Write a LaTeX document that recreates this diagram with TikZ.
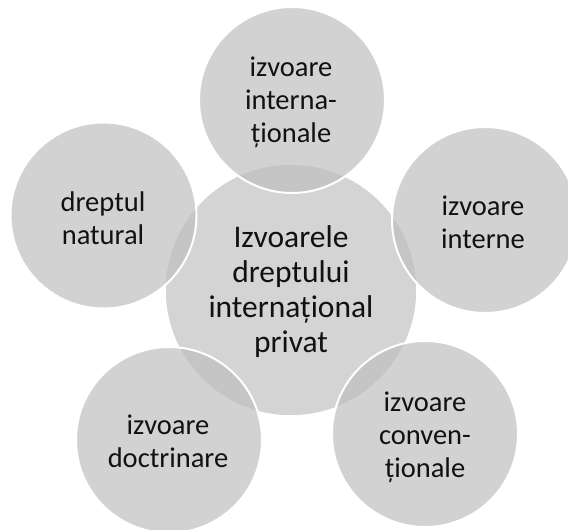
\documentclass[tikz,border=0pt]{standalone}
\usepackage{fontspec}
\setmainfont{Carlito}
\definecolor{hubgray}{RGB}{212,212,212}
\definecolor{satgray}{RGB}{190,190,190}
\definecolor{inktext}{RGB}{17,17,17}
\begin{document}
\begin{tikzpicture}[x=1pt,y=-1pt,
  hub/.style={circle, fill=hubgray, draw=white, line width=1.5pt,
    minimum size=252pt, inner sep=0pt},
  sat/.style={circle, fill=satgray, fill opacity=0.68,
    draw=white, draw opacity=1, line width=2pt,
    minimum size=186pt, inner sep=0pt},
  hubtxt/.style={text=inktext, align=center, font=\fontsize{31.5}{35}\selectfont},
  sattxt/.style={text=inktext, align=center, font=\fontsize{28.5}{33}\selectfont}]
\useasboundingbox[fill=white] (0,0) rectangle (568,530);
\node[hub] (hub) at (291,290) {};
\node[sat] (intl) at (292,100) {};
\node[sat] (interne) at (485,220) {};
\node[sat] (conv) at (425,434) {};
\node[sat] (doctr) at (169,440) {};
\node[sat] (natural) at (103.5,215.5) {};
% texts
\node[hubtxt] (hubtext) at (291,292) {Izvoarele\\dreptului\\internațional\\privat};
\node[sattxt] (intltext) at (291,102) {izvoare\\interna-\\ționale};
\node[sattxt] (internetext) at (483,222) {izvoare\\interne};
\node[sattxt] (convtext) at (425,437) {izvoare\\conven-\\ționale};
\node[sattxt] (doctrtext) at (168,441) {izvoare\\doctrinare};
\node[sattxt] (naturaltext) at (103,218) {dreptul\\natural};
\end{tikzpicture}
\end{document}
